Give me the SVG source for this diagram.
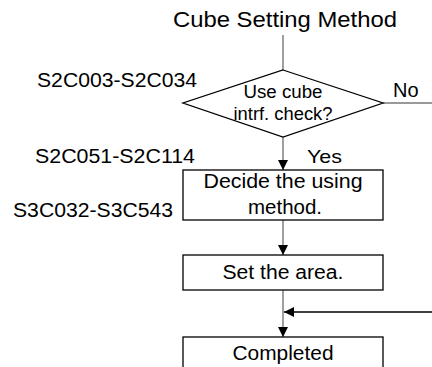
<svg xmlns="http://www.w3.org/2000/svg" width="432" height="367" viewBox="0 0 432 367">
<defs>
<style>
text{font-family:"Liberation Sans",Arial,sans-serif;fill:#000}
.c{text-anchor:middle}
.box{fill:#fff;stroke:#000;stroke-width:1.3}
.g{stroke:#777;stroke-width:1.4;fill:none}
.k{stroke:#000;stroke-width:1.3;fill:none}
</style>
<marker id="ah" markerWidth="10" markerHeight="10" refX="10" refY="5" orient="auto" markerUnits="userSpaceOnUse">
<path d="M0,0 L10,5 L0,10 Z" fill="#000"/>
</marker>
</defs>
<text class="c" x="285" y="27" font-size="22" textLength="224" lengthAdjust="spacingAndGlyphs">Cube Setting Method</text>
<g id="connectors">
<line class="g" x1="283" y1="35" x2="283" y2="70"/>
<line class="g" x1="383" y1="103" x2="432" y2="103"/>
<line class="g" x1="283" y1="137" x2="283" y2="170" marker-end="url(#ah)"/>
<line class="g" x1="283" y1="220" x2="283" y2="255" marker-end="url(#ah)"/>
<line class="g" x1="283" y1="290" x2="283" y2="337" marker-end="url(#ah)"/>
<line class="k" x1="432" y1="312" x2="284" y2="312" marker-end="url(#ah)"/>
</g>
<g id="decision">
<polygon class="box" points="283,70 383,103 283,137 183,103"/>
<text class="c" x="283" y="98" font-size="18" textLength="79" lengthAdjust="spacingAndGlyphs">Use cube</text>
<text class="c" x="283" y="120" font-size="18" textLength="99" lengthAdjust="spacingAndGlyphs">intrf. check?</text>
</g>
<g id="label-no"><text x="393" y="97" font-size="20">No</text></g>
<g id="label-yes"><text x="307" y="163" font-size="19" textLength="35" lengthAdjust="spacingAndGlyphs">Yes</text></g>
<g id="ref1"><text x="37" y="87" font-size="20" textLength="160" lengthAdjust="spacingAndGlyphs">S2C003-S2C034</text></g>
<g id="ref2"><text x="35" y="163" font-size="20" textLength="160" lengthAdjust="spacingAndGlyphs">S2C051-S2C114</text></g>
<g id="ref3"><text x="13" y="217" font-size="20" textLength="160" lengthAdjust="spacingAndGlyphs">S3C032-S3C543</text></g>
<g id="decide">
<rect class="box" x="183" y="170" width="200" height="50"/>
<text class="c" x="283" y="188" font-size="20" textLength="159" lengthAdjust="spacingAndGlyphs">Decide the using</text>
<text class="c" x="285" y="214" font-size="20" textLength="74" lengthAdjust="spacingAndGlyphs">method.</text>
</g>
<g id="setarea">
<rect class="box" x="183" y="255" width="200" height="35"/>
<text class="c" x="283" y="279" font-size="20" textLength="121" lengthAdjust="spacingAndGlyphs">Set the area.</text>
</g>
<g id="completed">
<rect class="box" x="183" y="337" width="200" height="40"/>
<text class="c" x="283" y="360" font-size="20" textLength="101" lengthAdjust="spacingAndGlyphs">Completed</text>
</g>
</svg>
